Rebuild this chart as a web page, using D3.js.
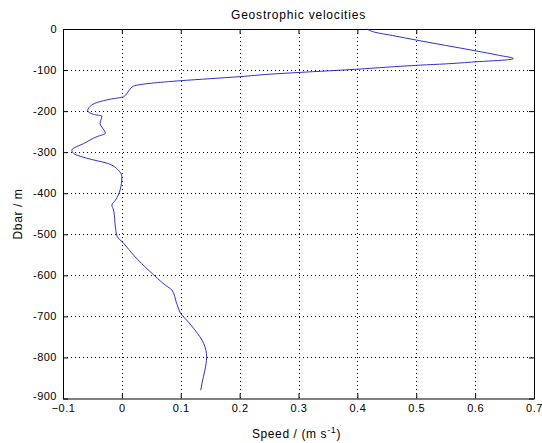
<!DOCTYPE html>
<html><head><meta charset="utf-8">
<script src="https://cdn.jsdelivr.net/npm/d3@7"></script>
<style>
body{margin:0;background:#fff;}
text{font-family:"Liberation Sans",Arial,sans-serif;fill:#000;}
</style></head><body>
<svg id="c" width="542" height="443"></svg>
<script>
const speed = [0.4165,0.43,0.46,0.50,0.55,0.60,0.64,0.665,0.655,0.60,0.55,0.507,0.45,0.399,0.299,0.252,0.201,0.15,0.099,0.05,0.020,0.012,0.003,-0.020,-0.040,-0.051,-0.058,-0.048,-0.034,-0.037,-0.028,-0.042,-0.065,-0.085,-0.082,-0.059,-0.025,-0.006,0.000,-0.003,-0.011,-0.017,-0.014,-0.011,-0.008,0.003,0.020,0.048,0.074,0.085,0.093,0.102,0.110,0.124,0.139,0.144,0.141,0.136,0.134];
const depth = [0,-8,-16,-27,-40,-53,-64,-72,-75,-80,-85,-88,-93,-98,-106,-110,-116,-121,-126,-132,-139,-150,-165,-171,-178,-185,-199,-208,-212,-230,-254,-262,-279,-295,-303,-315,-327,-344,-360,-392,-417,-429,-441,-482,-505,-522,-551,-591,-624,-636,-668,-697,-709,-733,-766,-799,-831,-863,-880];
const xTicks = [-0.1,0,0.1,0.2,0.3,0.4,0.5,0.6,0.7];
const yTicks = [0,-100,-200,-300,-400,-500,-600,-700,-800,-900];
const title = "Geostrophic velocities";
const yLabel = "Dbar / m";

const L=63, R=534, T=29, B=398.5;
const svg = d3.select("#c");
const x = d3.scaleLinear().domain([-0.1,0.7]).range([L,R]);
const y = d3.scaleLinear().domain([0,-900]).range([T,B]);

// grid
const g = svg.append("g");
g.selectAll("line.gx").data(xTicks.slice(1,-1)).enter().append("line")
 .attr("x1",d=>Math.round(x(d))+0.5).attr("x2",d=>Math.round(x(d))+0.5).attr("y1",T).attr("y2",B)
 .attr("stroke","#000").attr("stroke-width",1).attr("stroke-dasharray","1,3");
g.selectAll("line.gy").data(yTicks.slice(1,-1)).enter().append("line")
 .attr("y1",d=>Math.round(y(d))+0.5).attr("y2",d=>Math.round(y(d))+0.5).attr("x1",L).attr("x2",R)
 .attr("stroke","#000").attr("stroke-width",1).attr("stroke-dasharray","1,3");

// axes
const fmtX = d=> d===0?"0":d3.format(".1f")(d);
const ax = svg.append("g").attr("transform",`translate(0,${B})`)
 .call(d3.axisBottom(x).tickValues(xTicks).tickFormat(fmtX).tickSizeInner(-5).tickSizeOuter(0).tickPadding(6));
const axT = svg.append("g").attr("transform",`translate(0,${T})`)
 .call(d3.axisTop(x).tickValues(xTicks).tickFormat("").tickSizeInner(-5).tickSizeOuter(0));
const ay = svg.append("g").attr("transform",`translate(${L},0)`)
 .call(d3.axisLeft(y).tickValues(yTicks).tickFormat(d=>String(d)).tickSizeInner(-5).tickSizeOuter(0).tickPadding(6));
const ayR = svg.append("g").attr("transform",`translate(${R},0)`)
 .call(d3.axisRight(y).tickValues(yTicks).tickFormat("").tickSizeInner(-5).tickSizeOuter(0));
[ax,axT,ay,ayR].forEach(a=>{
  a.select(".domain").attr("stroke","#000");
  a.selectAll(".tick line").attr("stroke","#000");
  a.selectAll("text").style("font-size","11px").style("letter-spacing","0.5px").attr("fill","#000");
});
ax.selectAll("text").attr("dy","0.71em");
ay.selectAll(".tick").filter(d=>d===-900).select("text").attr("dy","0.05em");
ay.selectAll(".tick").filter(d=>d===0).select("text").attr("dy","0.32em");

// line
const line = d3.line().x((d,i)=>x(speed[i])).y((d,i)=>y(depth[i])).curve(d3.curveMonotoneY);
svg.append("path").datum(speed).attr("d",line).attr("fill","none").attr("stroke","#3030d0").attr("stroke-width",1);

// title
svg.append("text").attr("x",(L+R)/2).attr("y",19).attr("text-anchor","middle")
 .style("font-size","12px").style("letter-spacing","0.8px").text(title);
// x label
const xl = svg.append("text").attr("x",(L+R)/2-2).attr("y",438).attr("text-anchor","middle")
 .style("font-size","12px").style("letter-spacing","0.6px");
xl.append("tspan").text("Speed / (m s");
xl.append("tspan").attr("dy",-5).style("font-size","9px").text("-1");
xl.append("tspan").attr("dy",5).text(")");
// y label
svg.append("text").attr("transform","translate(22,214) rotate(-90)").attr("text-anchor","middle")
 .style("font-size","12px").style("letter-spacing","0.6px").text(yLabel);
</script></body></html>
